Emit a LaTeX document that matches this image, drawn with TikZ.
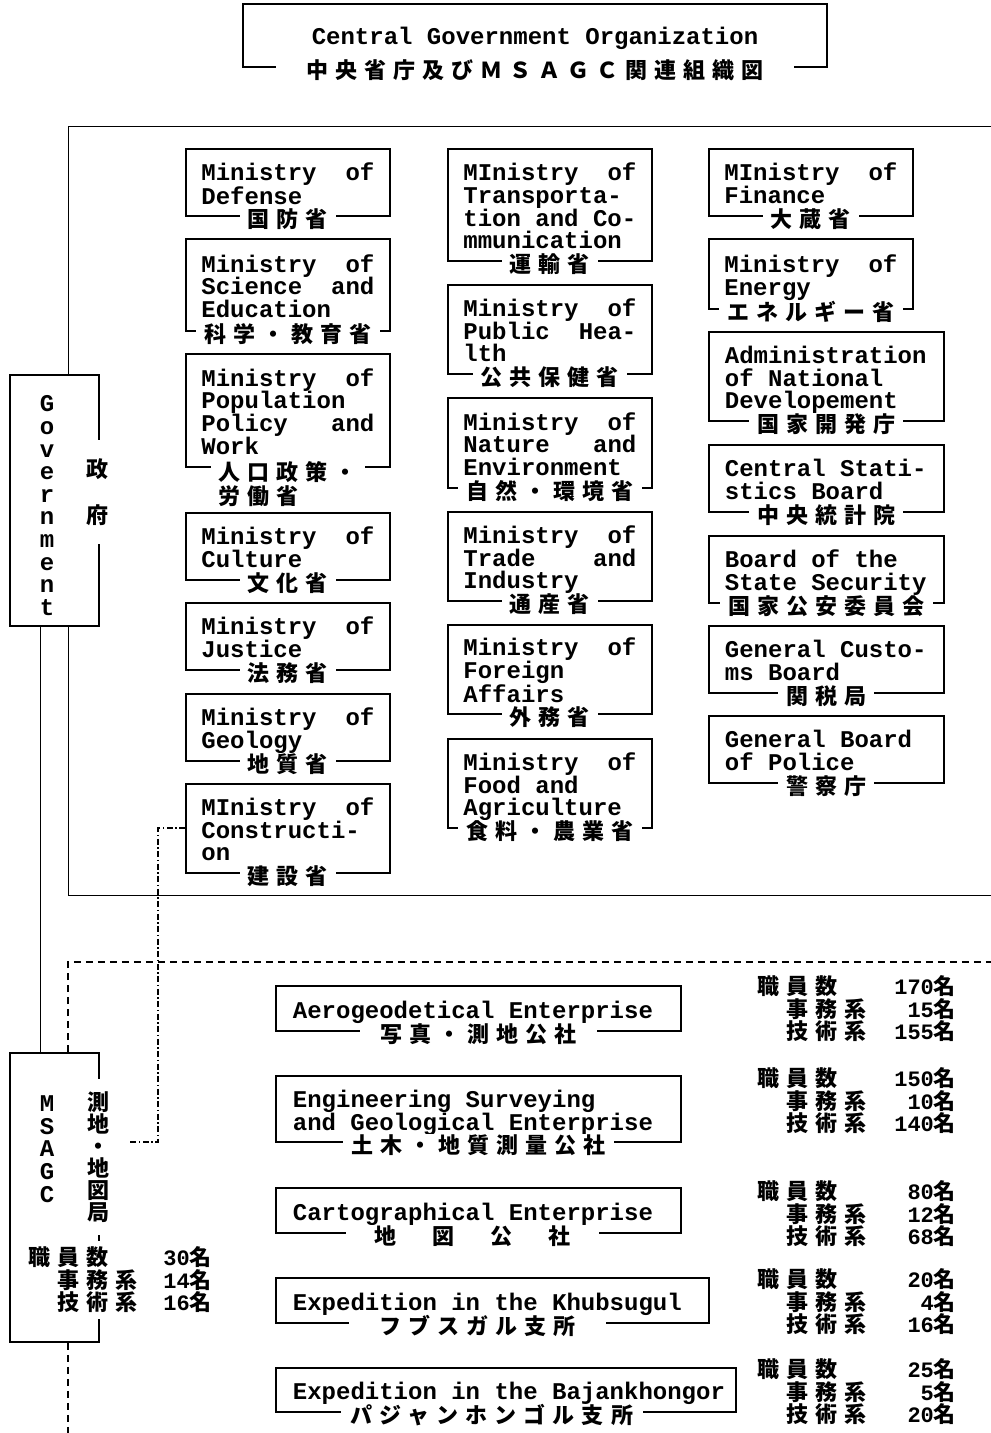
\documentclass[tikz,border=0pt]{standalone}
\usepackage{fontspec}
\newfontfamily\twfont{Liberation Mono}
\newfontfamily\jpfont{Noto Sans CJK JP}[LetterSpace=32]
\newfontfamily\jpvfont{Noto Sans CJK JP}
\usetikzlibrary{positioning,backgrounds}

\newcommand\pair[2]{\leavevmode\hbox to\linewidth{#1\hfill#2}}
\newcommand\staff[3]{%
  \leavevmode\hbox to\linewidth{職員数\hfill{\twfont\bfseries#1}名}\\
  \leavevmode\hbox to\linewidth{\hspace*{29pt}事務系\hfill{\twfont\bfseries#2}名}\\
  \leavevmode\hbox to\linewidth{\hspace*{29pt}技術系\hfill{\twfont\bfseries#3}名}}

\begin{document}
\begin{tikzpicture}[
    x=1pt, y=-1pt,
    line width=1.8pt,
    office/.style={draw, anchor=north west, inner ysep=0pt, align=left,
      font=\twfont\bfseries\fontsize{24}{22.7}\selectfont,
      execute at begin node={\spaceskip=14.4pt\relax\xspaceskip=14.4pt\relax
        \rule{0pt}{24.7pt}},
      execute at end node={\rule[-5pt]{0pt}{5pt}}},
    narrow/.style={office, minimum width=204pt, text width=173pt, inner xsep=15.5pt},
    wide/.style={office, minimum width=235pt, text width=203pt, inner xsep=16pt},
    firm/.style={office, minimum width=#1, text width=#1-34pt, inner xsep=17pt},
    jlabel/.style={fill=white, inner xsep=8pt, inner ysep=0pt, yshift=-2pt, align=left,
      font=\jpfont\bfseries\fontsize{22}{23.5}\selectfont},
    orgbox/.style={draw, fill=white, minimum width=89pt, inner sep=0pt},
    vtext/.style={anchor=north, inner sep=0pt, align=center,
      font=\twfont\bfseries\fontsize{24}{22.6}\selectfont},
    vjp/.style={fill=white, inner xsep=3pt, align=center},
    staffnote/.style={anchor=north west, inner sep=0pt, align=left, text width=198pt,
      font=\jpfont\bfseries\fontsize{22}{22.5}\selectfont},
    link/.style={line width=1.5pt, dash pattern=on 7pt off 5pt},
    chain/.style={line width=2pt, dash pattern=on 6pt off 2.5pt on 1.5pt off 2.5pt},
  ]
  \useasboundingbox (0,0) rectangle (991,1433);

  % Title
  \node[draw, minimum width=584pt, minimum height=63pt, inner sep=0pt,
    text height=18.6pt, text depth=0pt,
    font=\twfont\bfseries\fontsize{24}{24}\selectfont] (title) at (535,35.5)
    {Central Government Organization};
  \node[jlabel, inner xsep=30pt] (title-jp) at (title.south)
    {中央省庁及びＭＳＡＧＣ関連組織図};

  % Government
  \node[orgbox, minimum height=251pt] (gov) at (54.5,500.5) {};
  \node[vtext] (gov-en) at (47,395) {G\\o\\v\\e\\r\\n\\m\\e\\n\\t};
  \node[vjp, inner ysep=18pt, font=\jpvfont\bfseries\fontsize{22}{46}\selectfont]
    (gov-jp) at (97,492) {政\\府};

  % Ministries, first column
  \node[narrow, minimum height=67pt] (defense) at (185,148) {\pair{Ministry}{of}\\Defense};
  \node[narrow, minimum height=92pt] (science) at (185,238)
    {\pair{Ministry}{of}\\\pair{Science}{and}\\Education};
  \node[narrow, minimum height=113pt] (popul) at (185,353)
    {\pair{Ministry}{of}\\Population\\\pair{Policy}{and}\\Work};
  \node[narrow, minimum height=67pt] (culture) at (185,512) {\pair{Ministry}{of}\\Culture};
  \node[narrow, minimum height=67pt] (justice) at (185,602) {\pair{Ministry}{of}\\Justice};
  \node[narrow, minimum height=67pt] (geology) at (185,693) {\pair{Ministry}{of}\\Geology};
  \node[narrow, minimum height=89pt] (construct) at (185,783)
    {\pair{MInistry}{of}\\Constructi-\\on};

  % Ministries, second column
  \node[narrow, minimum height=112pt] (transport) at (447,148)
    {\pair{MInistry}{of}\\Transporta-\\tion~and~Co-\\mmunication};
  \node[narrow, minimum height=89pt] (health) at (447,284)
    {\pair{Ministry}{of}\\\pair{Public}{Hea-}\\lth};
  \node[narrow, minimum height=90pt] (nature) at (447,397)
    {\pair{Ministry}{of}\\\pair{Nature}{and}\\Environment};
  \node[narrow, minimum height=89pt] (trade) at (447,511)
    {\pair{Ministry}{of}\\\pair{Trade}{and}\\Industry};
  \node[narrow, minimum height=89pt] (foreign) at (447,624)
    {\pair{Ministry}{of}\\Foreign\\Affairs};
  \node[narrow, minimum height=89pt] (food) at (447,738)
    {\pair{Ministry}{of}\\Food~and\\Agriculture};

  % Ministries and boards, third column
  \node[narrow, minimum height=67pt] (finance) at (708,148) {\pair{MInistry}{of}\\Finance};
  \node[narrow, minimum height=70pt] (energy) at (708,238) {\pair{Ministry}{of}\\Energy};
  \node[wide, minimum height=89pt] (develop) at (708,331)
    {Administration\\of~National\\Developement};
  \node[wide, minimum height=67pt] (stats) at (708,444) {Central~Stati-\\stics~Board};
  \node[wide, minimum height=67pt] (security) at (708,535) {Board~of~the\\State~Security};
  \node[wide, minimum height=67pt] (customs) at (708,625) {General~Custo-\\ms~Board};
  \node[wide, minimum height=67pt] (police) at (708,715) {General~Board\\of~Police};

  % Japanese names on the lower edges
  \foreach \n/\t in {defense/国防省, science/科学・教育省, culture/文化省,
      justice/法務省, geology/地質省, construct/建設省, transport/運輸省,
      health/公共保健省, nature/自然・環境省, trade/通産省, foreign/外務省,
      food/食料・農業省, finance/大蔵省, energy/エネルギー省, develop/国家開発庁,
      stats/中央統計院, security/国家公安委員会, customs/関税局, police/警察庁}
    \node[jlabel] (\n-jp) at (\n.south) {\t};
  \node[jlabel, anchor=north, yshift=9pt] (popul-jp) at (popul.south) {人口政策・\\労働省};

  % MSAGC
  \node[orgbox, minimum height=289pt] (msagc) at (54.5,1197.5) {};
  \node[vtext] (msagc-en) at (47,1095) {M\\S\\A\\G\\C};
  \node[vjp, inner ysep=13pt, font=\jpvfont\bfseries\fontsize{22}{22}\selectfont]
    (msagc-jp) at (98,1157) {測\\地\\・\\地\\図\\局};
  \node[staffnote, text width=183pt, fill=white, inner ysep=6pt] (msagc-staff)
    at (28,1240) {\staff{30}{14}{16}};

  % Enterprises under MSAGC
  \node[firm=405pt, minimum height=45pt] (aero) at (275,985) {Aerogeodetical~Enterprise};
  \node[firm=405pt, minimum height=66pt] (survey) at (275,1075)
    {Engineering~Surveying\\and~Geological~Enterprise};
  \node[firm=405pt, minimum height=45pt] (carto) at (275,1187) {Cartographical~Enterprise};
  \node[firm=433pt, minimum height=45pt] (khub) at (275,1277) {Expedition~in~the~Khubsugul};
  \node[firm=460pt, minimum height=44pt] (bajan) at (275,1367)
    {Expedition~in~the~Bajankhongor};

  \node[jlabel, inner xsep=20pt] (aero-jp) at (aero.south) {写真・測地公社};
  \node[jlabel] (survey-jp) at (survey.south) {土木・地質測量公社};
  \node[jlabel, inner xsep=28pt] (carto-jp) at ([xshift=-6pt]carto.south) {地　図　公　社};
  \node[jlabel, inner xsep=30pt] (khub-jp) at ([xshift=-15pt]khub.south) {フブスガル支所};
  \node[jlabel, inner xsep=10pt] (bajan-jp) at ([xshift=-14pt]bajan.south) {パジャンホンゴル支所};

  % Staff numbers
  \node[staffnote] (aero-staff) at (757,975) {\staff{170}{15}{155}};
  \node[staffnote] (survey-staff) at (757,1067) {\staff{150}{10}{140}};
  \node[staffnote] (carto-staff) at (757,1180) {\staff{80}{12}{68}};
  \node[staffnote] (khub-staff) at (757,1268) {\staff{20}{4}{16}};
  \node[staffnote] (bajan-staff) at (757,1358) {\staff{25}{5}{20}};

  % Connectors
  \coordinate (frame-x) at (68,0);
  \coordinate (trunk-x) at (40,0);
  \coordinate (frame-tr) at (991,126);
  \coordinate (frame-br) at (991,895);
  \coordinate (dash-tr) at (991,962);
  \coordinate (tail-end) at (68,1433);
  \coordinate (msagc-link) at (128,1142);
  \coordinate (chain-x) at (158,0);
  \begin{scope}[on background layer]
    \draw (frame-tr) -| (gov.north -| frame-x);
    \draw (gov.south -| frame-x) |- (frame-br);
    \draw (gov.south -| trunk-x) -- (msagc.north -| trunk-x);
    \draw[link] (msagc.north -| frame-x) |- (dash-tr);
    \draw[link] (msagc.south -| frame-x) -- (tail-end);
    \draw[chain] (construct.west) -| (chain-x |- msagc-link) -- (msagc-link);
  \end{scope}
\end{tikzpicture}
\end{document}
